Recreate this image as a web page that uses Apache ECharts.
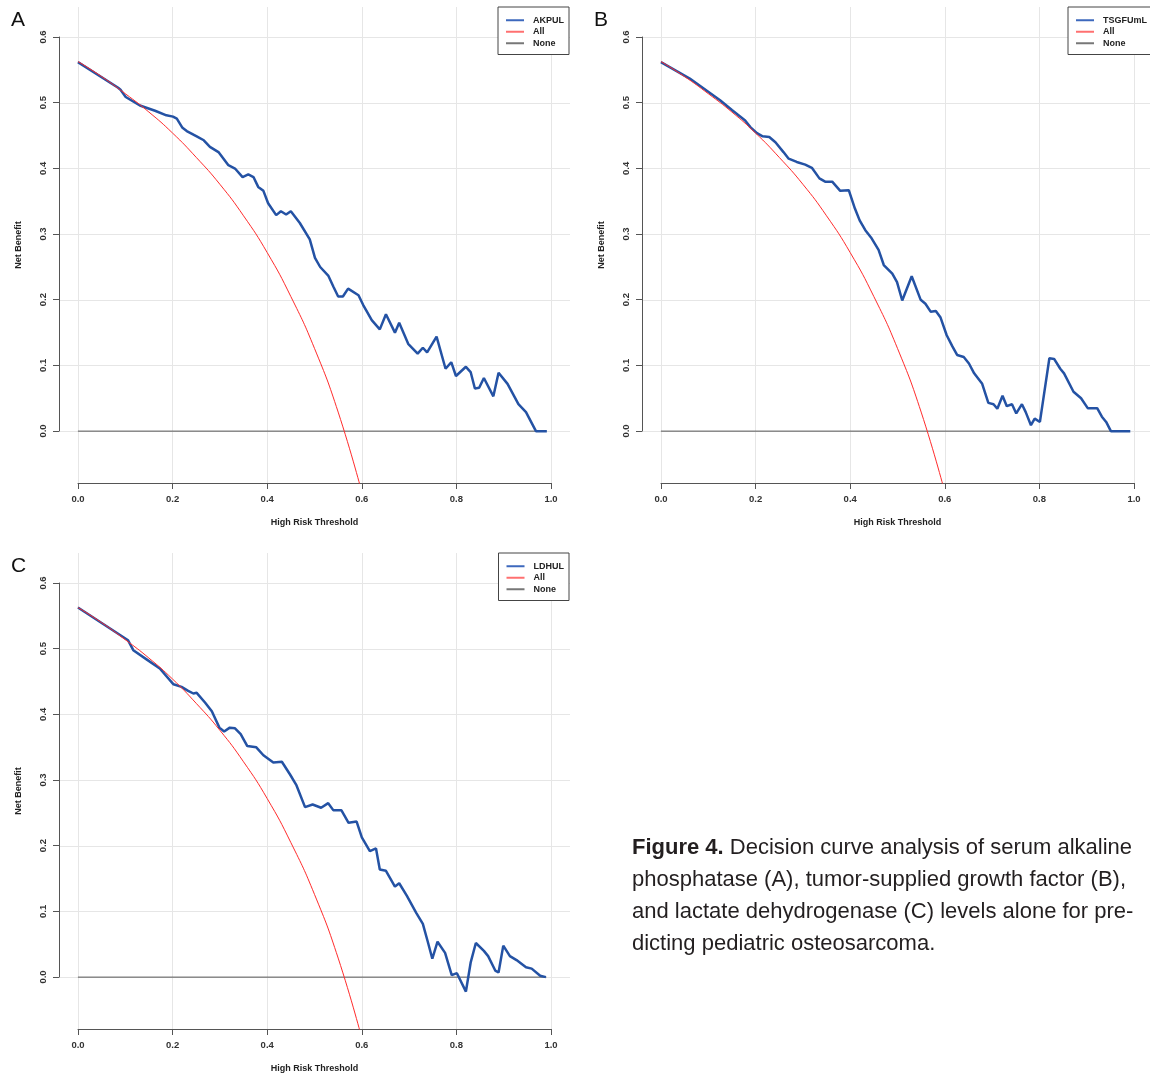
<!DOCTYPE html>
<html>
<head>
<meta charset="utf-8">
<title>Decision curve analysis</title>
<script src="https://cdn.jsdelivr.net/npm/echarts@6/dist/echarts.min.js"></script>
<style>
  html, body { margin: 0; padding: 0; background: #fff; }
  #dca { width: 1150px; height: 1078px; }
</style>
</head>
<body>
<div id="dca"></div>
<script>
// tick labels
var xTicks = [0, 0.2, 0.4, 0.6, 0.8, 1.0];
var yTicks = [0, 0.1, 0.2, 0.3, 0.4, 0.5, 0.6];

// [threshold, net benefit]
var allCurve = [
  [0, 0.563], [0.05, 0.540], [0.1, 0.514], [0.15, 0.486], [0.2, 0.454], [0.25, 0.417],
  [0.3, 0.376], [0.35, 0.328], [0.4, 0.272], [0.45, 0.205], [0.5, 0.126], [0.55, 0.029], [0.6, -0.093]
];
var noneCurve = [[0, 0], [0.99, 0]];

var akpulCurve = [
  [0, 0.562], [0.085, 0.523], [0.09, 0.520], [0.101, 0.509], [0.131, 0.496], [0.163, 0.488],
  [0.187, 0.481], [0.201, 0.479], [0.209, 0.476], [0.221, 0.462], [0.230, 0.457], [0.251, 0.449],
  [0.266, 0.443], [0.279, 0.433], [0.297, 0.425], [0.318, 0.405], [0.332, 0.400], [0.348, 0.387],
  [0.360, 0.391], [0.371, 0.387], [0.381, 0.372], [0.392, 0.366], [0.402, 0.347], [0.419, 0.329],
  [0.429, 0.335], [0.440, 0.330], [0.450, 0.335], [0.469, 0.317], [0.490, 0.292], [0.501, 0.264],
  [0.512, 0.250], [0.529, 0.237], [0.540, 0.220], [0.550, 0.205], [0.560, 0.205], [0.571, 0.217],
  [0.593, 0.207], [0.603, 0.192], [0.621, 0.169], [0.638, 0.155], [0.651, 0.178], [0.670, 0.150],
  [0.679, 0.165], [0.698, 0.133], [0.718, 0.118], [0.729, 0.127], [0.738, 0.120], [0.758, 0.144],
  [0.777, 0.095], [0.789, 0.105], [0.799, 0.084], [0.820, 0.098], [0.830, 0.090], [0.839, 0.065],
  [0.848, 0.066], [0.858, 0.081], [0.878, 0.053], [0.889, 0.089], [0.908, 0.072], [0.931, 0.041],
  [0.947, 0.029], [0.968, 0.0], [0.991, 0.0]
];

var tsgfCurve = [
  [0, 0.562], [0.061, 0.537], [0.125, 0.504], [0.150, 0.489], [0.164, 0.481], [0.178, 0.473],
  [0.189, 0.463], [0.203, 0.454], [0.215, 0.449], [0.229, 0.448], [0.242, 0.440], [0.259, 0.425],
  [0.270, 0.415], [0.287, 0.410], [0.305, 0.406], [0.319, 0.401], [0.335, 0.385], [0.347, 0.380],
  [0.362, 0.380], [0.379, 0.366], [0.397, 0.367], [0.410, 0.339], [0.420, 0.321], [0.432, 0.306],
  [0.444, 0.295], [0.460, 0.276], [0.471, 0.253], [0.489, 0.240], [0.499, 0.227], [0.510, 0.199],
  [0.530, 0.236], [0.549, 0.200], [0.559, 0.194], [0.570, 0.182], [0.581, 0.183], [0.591, 0.173],
  [0.604, 0.146], [0.616, 0.129], [0.626, 0.116], [0.640, 0.113], [0.651, 0.103], [0.662, 0.088],
  [0.679, 0.072], [0.692, 0.043], [0.703, 0.041], [0.711, 0.034], [0.722, 0.054], [0.731, 0.038],
  [0.742, 0.041], [0.751, 0.027], [0.763, 0.041], [0.771, 0.029], [0.782, 0.009], [0.790, 0.019],
  [0.801, 0.014], [0.821, 0.111], [0.831, 0.110], [0.844, 0.095], [0.852, 0.088], [0.872, 0.060],
  [0.888, 0.050], [0.902, 0.035], [0.922, 0.035], [0.932, 0.022], [0.941, 0.014], [0.951, 0.0],
  [0.992, 0.0]
];

var ldhCurve = [
  [0, 0.563], [0.106, 0.513], [0.117, 0.498], [0.145, 0.484], [0.173, 0.470], [0.202, 0.446],
  [0.219, 0.442], [0.233, 0.436], [0.244, 0.432], [0.251, 0.433], [0.269, 0.418], [0.283, 0.405],
  [0.299, 0.380], [0.309, 0.374], [0.321, 0.380], [0.332, 0.379], [0.344, 0.370], [0.358, 0.352],
  [0.377, 0.350], [0.392, 0.338], [0.413, 0.327], [0.431, 0.328], [0.448, 0.309], [0.462, 0.292],
  [0.480, 0.259], [0.496, 0.263], [0.514, 0.258], [0.529, 0.265], [0.540, 0.254], [0.557, 0.254],
  [0.572, 0.235], [0.589, 0.237], [0.600, 0.213], [0.617, 0.192], [0.630, 0.196], [0.638, 0.164],
  [0.651, 0.162], [0.670, 0.138], [0.679, 0.143], [0.695, 0.124], [0.715, 0.098], [0.729, 0.081],
  [0.739, 0.055], [0.749, 0.028], [0.760, 0.054], [0.776, 0.037], [0.790, 0.003], [0.801, 0.006],
  [0.820, -0.022], [0.830, 0.022], [0.841, 0.052], [0.858, 0.040], [0.867, 0.032], [0.882, 0.010],
  [0.889, 0.007], [0.899, 0.048], [0.913, 0.032], [0.927, 0.026], [0.947, 0.015], [0.959, 0.013],
  [0.977, 0.002], [0.989, 0.0]
];

var captionLines = [
  '{b|Figure 4.} Decision curve analysis of serum alkaline',
  'phosphatase (A), tumor-supplied growth factor (B),',
  'and lactate dehydrogenase (C) levels alone for pre-',
  'dicting pediatric osteosarcoma.'
];

var FONT = '"Liberation Sans", Arial, sans-serif';
var BLUE = '#2452a4';
var RED = '#ff2b2b';
var GREY = '#555555';
var PAGE_W = 1150;

// plot region spans usr = [-0.04, 1.04] x [-0.079, 0.646], like base R
var X_MIN = -0.04, X_MAX = 1.04, Y_MIN = -0.079, Y_MAX = 0.646;
var REGION_W = 511, REGION_H = 476;

var panels = [
  { letter: 'A', model: 'AKPUL', curve: akpulCurve, left: 59, top: 7 },
  { letter: 'B', model: 'TSGFUmL', curve: tsgfCurve, left: 642, top: 7 },
  { letter: 'C', model: 'LDHUL', curve: ldhCurve, left: 59, top: 553 }
];

var grid = [], xAxis = [], yAxis = [], series = [], legend = [], graphic = [];

panels.forEach(function (p, i) {
  var boxLeft = p.left + Math.round((0 - X_MIN) / (X_MAX - X_MIN) * REGION_W);
  var boxTop = p.top + Math.round((Y_MAX - 0.6) / (Y_MAX - Y_MIN) * REGION_H);
  var boxW = Math.round(REGION_W / (X_MAX - X_MIN));
  var boxH = Math.round(0.6 / (Y_MAX - Y_MIN) * REGION_H);

  // full plot region: grid lines + curves
  grid.push({ left: p.left, top: p.top, width: REGION_W, height: REGION_H, outerBoundsMode: 'none', containLabel: false });
  // tick box: R style axes that only span the ticks
  grid.push({ left: boxLeft, top: boxTop, width: boxW, height: boxH, outerBoundsMode: 'none', containLabel: false });

  var nameStyle = { fontFamily: FONT, fontSize: 9, fontWeight: 'bold', color: '#222' };
  var labelStyle = { fontFamily: FONT, fontSize: 9.5, fontWeight: 'bold', color: '#333' };

  xAxis.push({
    type: 'value', gridIndex: 2 * i, min: X_MIN, max: X_MAX,
    name: 'High Risk Threshold', nameLocation: 'middle', nameGap: 35, nameTextStyle: nameStyle,
    axisLine: { show: false, onZero: false },
    axisTick: { show: false, customValues: xTicks },
    axisLabel: { show: false, customValues: xTicks },
    splitLine: { show: true, lineStyle: { color: '#e6e6e6', width: 1 } }
  });
  xAxis.push({
    type: 'value', gridIndex: 2 * i + 1, min: 0, max: 1, interval: 0.2,
    position: 'bottom', offset: REGION_H - boxH - (boxTop - p.top),
    axisLine: { show: true, onZero: false, lineStyle: { color: GREY, width: 1 } },
    axisTick: { show: true, length: 6, lineStyle: { color: GREY } },
    axisLabel: Object.assign({ margin: 11, formatter: function (v) { return v.toFixed(1); } }, labelStyle),
    splitLine: { show: false }
  });
  yAxis.push({
    type: 'value', gridIndex: 2 * i, min: Y_MIN, max: Y_MAX,
    name: 'Net Benefit', nameLocation: 'middle', nameGap: 36, nameTextStyle: nameStyle,
    axisLine: { show: false, onZero: false },
    axisTick: { show: false, customValues: yTicks },
    axisLabel: { show: false, customValues: yTicks },
    splitLine: { show: true, lineStyle: { color: '#e6e6e6', width: 1 } }
  });
  yAxis.push({
    type: 'value', gridIndex: 2 * i + 1, min: 0, max: 0.6, interval: 0.1,
    position: 'left', offset: boxLeft - p.left,
    axisLine: { show: true, onZero: false, lineStyle: { color: GREY, width: 1 } },
    axisTick: { show: true, length: 6, lineStyle: { color: GREY } },
    axisLabel: Object.assign({ margin: 11, rotate: 90, formatter: function (v) { return v.toFixed(1); } }, labelStyle),
    splitLine: { show: false }
  });

  series.push({
    name: 'None', type: 'line', xAxisIndex: 2 * i, yAxisIndex: 2 * i,
    data: noneCurve, symbol: 'none', z: 1,
    lineStyle: { color: GREY, width: 1 }, itemStyle: { color: GREY }
  });
  series.push({
    name: p.model, type: 'line', xAxisIndex: 2 * i, yAxisIndex: 2 * i,
    data: p.curve, symbol: 'none', z: 2,
    lineStyle: { color: BLUE, width: 2.5 }, itemStyle: { color: BLUE }
  });
  series.push({
    name: 'All', type: 'line', xAxisIndex: 2 * i, yAxisIndex: 2 * i,
    data: allCurve, symbol: 'none', smooth: true, z: 3,
    lineStyle: { color: RED, width: 1 }, itemStyle: { color: RED }
  });

  // legend sits in the top right corner of the plot region, as legend("topright")
  legend.push({
    right: PAGE_W - (p.left + REGION_W) + 1, top: p.top, orient: 'vertical',
    data: [
      { name: p.model, itemStyle: { color: '#3d68bd' } },
      { name: 'All', itemStyle: { color: '#ff7070' } },
      { name: 'None', itemStyle: { color: '#777' } }
    ],
    icon: 'rect', itemWidth: 18, itemHeight: 2, itemGap: 1,
    padding: [8, 5, 6, 8], borderColor: '#444', borderWidth: 1, borderRadius: 0,
    backgroundColor: '#fff', selectedMode: false,
    textStyle: { fontFamily: FONT, fontSize: 9, fontWeight: 'bold', color: '#222', lineHeight: 10.5, padding: [0, 0, 0, 4] }
  });

  graphic.push({
    type: 'text', x: p.left - 48, y: p.top + 3,
    style: { text: p.letter, font: '21px ' + FONT, fill: '#111' }
  });
});

captionLines.forEach(function (line, k) {
  graphic.push({
    type: 'text', x: 632, y: 848 + 32 * k,
    style: {
      text: line, fontFamily: FONT, fontSize: 22, fill: '#231f20', verticalAlign: 'middle',
      rich: { b: { fontFamily: FONT, fontSize: 22, fontWeight: 'bold', fill: '#231f20' } }
    }
  });
});

var chart = echarts.init(document.getElementById('dca'), null, { renderer: 'canvas' });
chart.setOption({
  animation: false,
  backgroundColor: '#fff',
  grid: grid,
  xAxis: xAxis,
  yAxis: yAxis,
  legend: legend,
  series: series,
  graphic: graphic
});
</script>
</body>
</html>
